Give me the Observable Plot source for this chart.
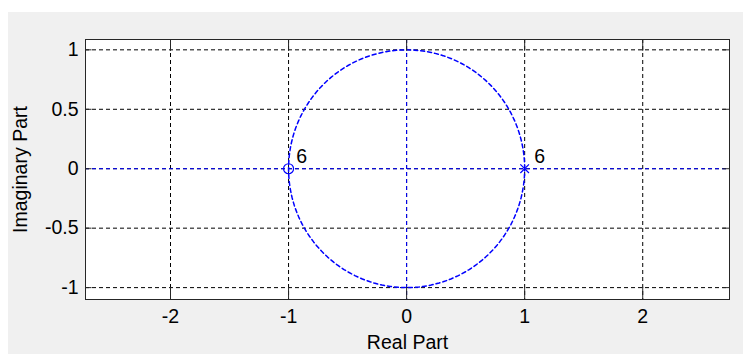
<!DOCTYPE html>
<html>
<head>
<meta charset="utf-8">
<script src="https://cdn.jsdelivr.net/npm/d3@7"></script>
<script src="https://cdn.jsdelivr.net/npm/@observablehq/plot@0.6"></script>
<style>
  html, body { margin: 0; padding: 0; background: #ffffff; }
  #wrap { position: relative; width: 753px; height: 354px; overflow: hidden; }
  #panel { position: absolute; left: 8px; top: 12px; width: 735px; height: 342px; background: #f0f0f0; }
  #chart { position: absolute; left: 0; top: 0; }
</style>
</head>
<body>
<div id="wrap"><div id="panel"></div><div id="chart"></div></div>
<script>
// ---- data ----
const xTicks = [-2, -1, 0, 1, 2];
const yTicks = [-1, -0.5, 0, 0.5, 1];
const xTickLabels = ["-2", "-1", "0", "1", "2"];
const yTickLabels = ["-1", "-0.5", "0", "0.5", "1"];
const zerosRe = [-1];
const zerosIm = [0];
const zerosMult = ["6"];
const polesRe = [1];
const polesIm = [0];
const polesMult = ["6"];
const xDomain = [-2.72, 2.735];
const yDomain = [-1.1, 1.087];
const xLabel = "Real Part";
const yLabel = "Imaginary Part";

// unit circle reference (geometry of the z-plane, not data)
const circle = d3.range(0, 361, 2).map(a => ({x: Math.cos(a * Math.PI / 180), y: Math.sin(a * Math.PI / 180)}));

const zeros = zerosRe.map((re, i) => ({x: re, y: zerosIm[i], m: zerosMult[i]}));
const poles = polesRe.map((re, i) => ({x: re, y: polesIm[i], m: polesMult[i]}));

const blue = "#0000ff";
const dash = "4,3";
const xt = 0.1;   // x tick length in y-units (~12px)
const yt = 0.055; // y tick length in x-units (~6.5px)
const fs = 19.5;

const chart = Plot.plot({
  width: 753,
  height: 354,
  marginLeft: 85,
  marginRight: 24,
  marginTop: 39,
  marginBottom: 55,
  x: {domain: xDomain},
  y: {domain: yDomain},
  style: {fontFamily: "'Liberation Sans', Arial, sans-serif", fontSize: fs + "px", background: "transparent", color: "#000"},
  marks: [
    Plot.frame({fill: "white", stroke: null}),
    Plot.gridX(xTicks, {stroke: "#000", strokeOpacity: 1, strokeDasharray: dash}),
    Plot.gridY(yTicks, {stroke: "#000", strokeOpacity: 1, strokeDasharray: dash}),
    // axis lines and unit circle
    Plot.ruleY([0], {stroke: blue, strokeDasharray: dash}),
    Plot.ruleX([0], {stroke: blue, strokeDasharray: dash}),
    Plot.line(circle, {x: "x", y: "y", stroke: blue, strokeDasharray: dash, curve: "linear"}),
    // inward ticks
    Plot.ruleX(xTicks, {y1: yDomain[0], y2: yDomain[0] + xt, stroke: "#262626"}),
    Plot.ruleX(xTicks, {y1: yDomain[1], y2: yDomain[1] - xt, stroke: "#262626"}),
    Plot.ruleY(yTicks, {x1: xDomain[0], x2: xDomain[0] + yt, stroke: "#262626"}),
    Plot.ruleY(yTicks, {x1: xDomain[1], x2: xDomain[1] - yt, stroke: "#262626"}),
    Plot.frame({stroke: "#262626"}),
    // zeros and poles
    Plot.dot(zeros, {x: "x", y: "y", symbol: "circle", r: 5, stroke: blue, fill: "none", strokeWidth: 1.2}),
    Plot.dot(poles, {x: "x", y: "y", symbol: "times", r: 4, stroke: blue, strokeWidth: 1.2}),
    Plot.text(zeros, {x: "x", y: "y", text: "m", dx: 13, dy: -12, fill: "#000", fontSize: fs}),
    Plot.text(poles, {x: "x", y: "y", text: "m", dx: 15, dy: -12, fill: "#000", fontSize: fs}),
    // axes labels
    Plot.axisX(xTicks, {tickSize: 0, tickPadding: 10, tickFormat: (d, i) => xTickLabels[i], label: null, fill: "#000"}),
    Plot.axisY(yTicks, {tickSize: 0, tickPadding: 7, tickFormat: (d, i) => yTickLabels[i], label: null, fill: "#000"}),
    Plot.text([xLabel], {frameAnchor: "bottom", lineAnchor: "middle", textAnchor: "middle", dy: 43, fill: "#000", fontSize: fs}),
    Plot.text([yLabel], {frameAnchor: "left", lineAnchor: "middle", textAnchor: "middle", dx: -65, rotate: -90, fill: "#000", fontSize: fs})
  ]
});
document.getElementById("chart").appendChild(chart);
</script>
</body>
</html>
